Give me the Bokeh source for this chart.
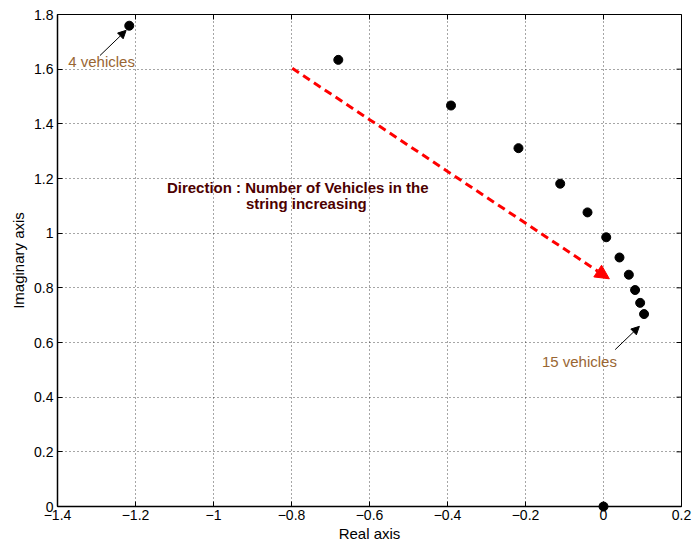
import math
from bokeh.plotting import figure
from bokeh.models import Range1d, FixedTicker, Arrow, NormalHead, ColumnDataSource
from bokeh.core.properties import value
from bokeh.embed import file_html
from bokeh.resources import INLINE

# ---- data ----
re_parts = [-1.216, -0.680, -0.391, -0.218, -0.111, -0.041, 0.007, 0.041,
            0.065, 0.081, 0.094, 0.104, 0.0]
im_parts = [1.759, 1.634, 1.467, 1.311, 1.181, 1.076, 0.985, 0.911,
            0.848, 0.792, 0.745, 0.704, 0.0]

x_ticks = [-1.4, -1.2, -1.0, -0.8, -0.6, -0.4, -0.2, 0.0, 0.2]
x_tick_labels = ["\u22121.4", "\u22121.2", "\u22121", "\u22120.8", "\u22120.6",
                 "\u22120.4", "\u22120.2", "0", "0.2"]
y_ticks = [0.0, 0.2, 0.4, 0.6, 0.8, 1.0, 1.2, 1.4, 1.6, 1.8]
y_tick_labels = ["0", "0.2", "0.4", "0.6", "0.8", "1", "1.2", "1.4", "1.6", "1.8"]

x_label = "Real axis"
y_label = "Imaginary axis"

label_first = "4 vehicles"
label_last = "15 vehicles"
direction_line1 = "Direction : Number of Vehicles in the"
direction_line2 = "string increasing"

# annotation anchors (data units)
first_arrow = dict(x0=-1.291, y0=1.650, x1=-1.224, y1=1.742)
last_arrow = dict(x0=0.030, y0=0.574, x1=0.092, y1=0.659)
dir_arrow = dict(x0=-0.798, y0=1.603, x1=0.015, y1=0.833)
first_label_pos = (-1.3726, 1.611)
last_label_pos = (-0.158, 0.513)
dir_line1_pos = (-0.784, 1.150)
dir_line2_pos = (-0.762, 1.092)

FONT = "Liberation Sans"
BROWN = "#996633"
MAROON = "#4d0000"

X0, X1 = -1.4, 0.2
Y0, Y1 = 0.0, 1.8

p = figure(frame_width=624, frame_height=492,
           min_border_left=57, min_border_right=11,
           min_border_top=14, min_border_bottom=42,
           x_range=Range1d(X0, X1), y_range=Range1d(Y0, Y1),
           output_backend="svg", toolbar_location=None,
           background_fill_color="white", border_fill_color="white")
p.outline_line_color = "black"
p.outline_line_width = 1

xt = FixedTicker(ticks=x_ticks)
yt = FixedTicker(ticks=y_ticks)
p.xaxis.ticker = xt
p.yaxis.ticker = yt
p.xaxis.major_label_overrides = dict(zip(x_ticks, x_tick_labels))
p.yaxis.major_label_overrides = dict(zip(y_ticks, y_tick_labels))

for ax in (p.xaxis[0], p.yaxis[0]):
    ax.major_tick_in = 5
    ax.major_tick_out = 0
    ax.minor_tick_line_color = None
    ax.axis_line_color = "black"
    ax.axis_line_width = 1.5
    ax.major_tick_line_color = "black"
    ax.major_label_text_font = FONT
    ax.major_label_text_font_size = "14px"
    ax.major_label_text_color = "black"
    ax.axis_label_text_font = FONT
    ax.axis_label_text_font_size = "15px"
    ax.axis_label_text_font_style = "normal"
    ax.axis_label_text_color = "black"

p.xaxis.axis_label = x_label
p.yaxis.axis_label = y_label
p.xaxis.major_label_standoff = 3
p.yaxis.major_label_standoff = 4
p.xaxis.axis_label_standoff = 2
p.yaxis.axis_label_standoff = 4

p.xgrid.ticker = xt
p.ygrid.ticker = yt
for g in (p.xgrid[0], p.ygrid[0]):
    g.grid_line_color = "black"
    g.grid_line_alpha = 0.7
    g.grid_line_dash = "1 3"
    g.grid_line_width = 1

# mirrored inward tick marks on top and right edges (half clipped by the frame)
p.scatter(x=x_ticks, y=[Y1] * len(x_ticks), marker="dash", size=10,
          angle=math.pi / 2, line_color="black", line_width=1)
p.scatter(x=[X1] * len(y_ticks), y=y_ticks, marker="dash", size=10,
          line_color="black", line_width=1)

src = ColumnDataSource(dict(x=re_parts, y=im_parts))
p.scatter("x", "y", source=src, size=9, color="black", level="overlay")

# arrows
for a in (first_arrow, last_arrow):
    p.add_layout(Arrow(x_start=a["x0"], y_start=a["y0"], x_end=a["x1"], y_end=a["y1"],
                       line_color="black", line_width=1,
                       end=NormalHead(size=8, fill_color="black", line_color="black",
                                      line_width=1)))
p.add_layout(Arrow(x_start=dir_arrow["x0"], y_start=dir_arrow["y0"],
                   x_end=dir_arrow["x1"], y_end=dir_arrow["y1"],
                   line_color="red", line_width=3, line_dash="8 5",
                   end=NormalHead(size=14, fill_color="red", line_color="red",
                                  line_width=1)))

# texts
p.text(x=[first_label_pos[0]], y=[first_label_pos[1]], text=[label_first],
       text_font=value(FONT), text_font_size="15px", text_color=BROWN,
       text_align="left", text_baseline="alphabetic", y_offset=-5)
p.text(x=[last_label_pos[0]], y=[last_label_pos[1]], text=[label_last],
       text_font=value(FONT), text_font_size="15px", text_color=BROWN,
       text_align="left", text_baseline="alphabetic", y_offset=-5)
p.text(x=[dir_line1_pos[0], dir_line2_pos[0]], y=[dir_line1_pos[1], dir_line2_pos[1]],
       text=[direction_line1, direction_line2],
       text_font=value(FONT), text_font_size="15px", text_font_style="bold",
       text_color=MAROON, text_align="center", text_baseline="alphabetic",
       y_offset=-5)

open("out.html", "w").write(file_html(p, INLINE))
